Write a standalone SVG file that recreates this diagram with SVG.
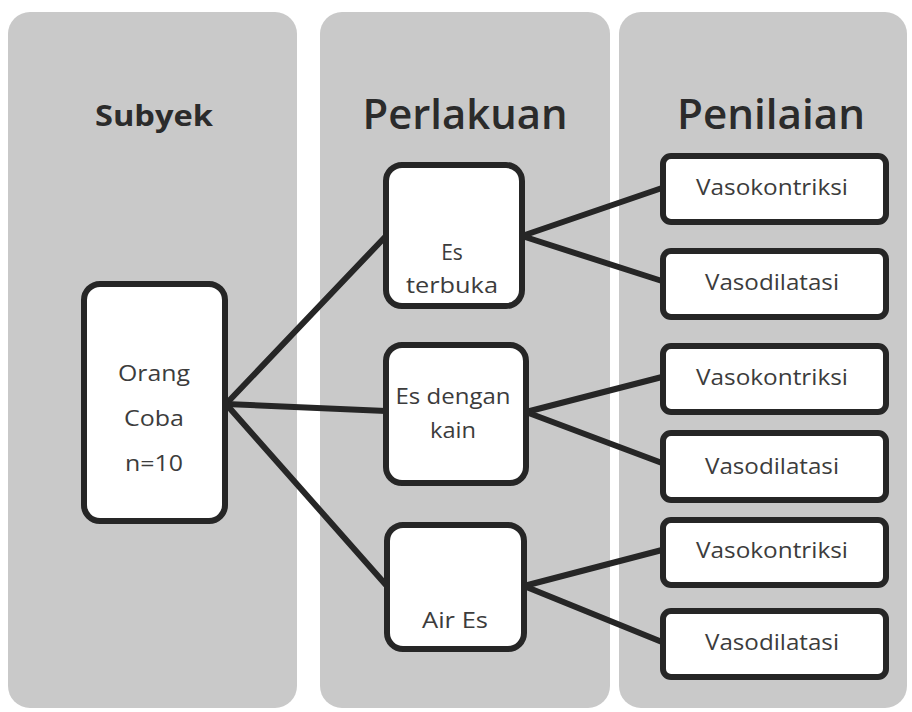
<svg xmlns="http://www.w3.org/2000/svg" width="912" height="712" viewBox="0 0 912 712">
<style>
.panel{fill:#c9c9c9}
.title{font-family:"Open Sans","Liberation Sans",sans-serif;fill:#2b2b2b;text-anchor:middle}
.box{fill:#ffffff;stroke:#262626;stroke-width:6}
.lbl{font-family:"Open Sans","Liberation Sans",sans-serif;font-size:21px;fill:#3c3c3c;text-anchor:middle}
.conn{stroke:#262626;stroke-width:6;fill:none;stroke-linecap:round}
</style>
<rect width="912" height="712" fill="#ffffff"/>
<g id="panels">
<rect class="panel" x="8" y="12" width="289" height="696" rx="22"/>
<rect class="panel" x="320" y="12" width="290" height="696" rx="22"/>
<rect class="panel" x="619" y="12" width="288" height="696" rx="22"/>
</g>
<g id="titles">
<text class="title" x="154" y="126" font-size="28" font-weight="bold" textLength="118" lengthAdjust="spacingAndGlyphs">Subyek</text>
<text class="title" x="465" y="129" font-size="42" font-weight="600" textLength="205" lengthAdjust="spacingAndGlyphs">Perlakuan</text>
<text class="title" x="771" y="129" font-size="42" font-weight="600" textLength="188" lengthAdjust="spacingAndGlyphs">Penilaian</text>
</g>
<g id="connectors">
<line class="conn" x1="226" y1="404" x2="386" y2="236"/>
<line class="conn" x1="226" y1="404" x2="386" y2="411"/>
<line class="conn" x1="226" y1="404" x2="386" y2="585"/>
<line class="conn" x1="522" y1="236" x2="662" y2="188"/>
<line class="conn" x1="522" y1="236" x2="662" y2="281"/>
<line class="conn" x1="526" y1="412" x2="662" y2="377"/>
<line class="conn" x1="526" y1="412" x2="662" y2="463"/>
<line class="conn" x1="524" y1="586" x2="662" y2="550"/>
<line class="conn" x1="524" y1="586" x2="662" y2="642"/>
</g>
<g id="orang-coba">
<rect class="box" x="84" y="284" width="141" height="237" rx="16"/>
<text class="lbl" x="154" y="381" textLength="72" lengthAdjust="spacingAndGlyphs">Orang</text>
<text class="lbl" x="154" y="426" textLength="60" lengthAdjust="spacingAndGlyphs">Coba</text>
<text class="lbl" x="154" y="471" textLength="58" lengthAdjust="spacingAndGlyphs">n=10</text>
</g>
<g id="es-terbuka">
<rect class="box" x="386" y="165" width="136" height="141" rx="16"/>
<text class="lbl" x="452" y="260">Es</text>
<text class="lbl" x="452" y="293" textLength="92" lengthAdjust="spacingAndGlyphs">terbuka</text>
</g>
<g id="es-dengan-kain">
<rect class="box" x="386" y="345" width="140" height="138" rx="16"/>
<text class="lbl" x="453" y="404" textLength="115" lengthAdjust="spacingAndGlyphs">Es dengan</text>
<text class="lbl" x="453" y="438" textLength="46" lengthAdjust="spacingAndGlyphs">kain</text>
</g>
<g id="air-es">
<rect class="box" x="387" y="525" width="137" height="124" rx="16"/>
<text class="lbl" x="455" y="628" textLength="66" lengthAdjust="spacingAndGlyphs">Air Es</text>
</g>
<g id="vasokontriksi-1">
<rect class="box" x="663" y="156" width="223" height="66" rx="8"/>
<text class="lbl" x="772" y="195" textLength="152" lengthAdjust="spacingAndGlyphs">Vasokontriksi</text>
</g>
<g id="vasodilatasi-1">
<rect class="box" x="663" y="251" width="223" height="66" rx="8"/>
<text class="lbl" x="772" y="290" textLength="134" lengthAdjust="spacingAndGlyphs">Vasodilatasi</text>
</g>
<g id="vasokontriksi-2">
<rect class="box" x="663" y="346" width="223" height="66" rx="8"/>
<text class="lbl" x="772" y="385" textLength="152" lengthAdjust="spacingAndGlyphs">Vasokontriksi</text>
</g>
<g id="vasodilatasi-2">
<rect class="box" x="663" y="433" width="223" height="67" rx="8"/>
<text class="lbl" x="772" y="474" textLength="134" lengthAdjust="spacingAndGlyphs">Vasodilatasi</text>
</g>
<g id="vasokontriksi-3">
<rect class="box" x="663" y="520" width="223" height="65" rx="8"/>
<text class="lbl" x="772" y="558" textLength="152" lengthAdjust="spacingAndGlyphs">Vasokontriksi</text>
</g>
<g id="vasodilatasi-3">
<rect class="box" x="663" y="611" width="223" height="66" rx="8"/>
<text class="lbl" x="772" y="650" textLength="134" lengthAdjust="spacingAndGlyphs">Vasodilatasi</text>
</g>
</svg>
